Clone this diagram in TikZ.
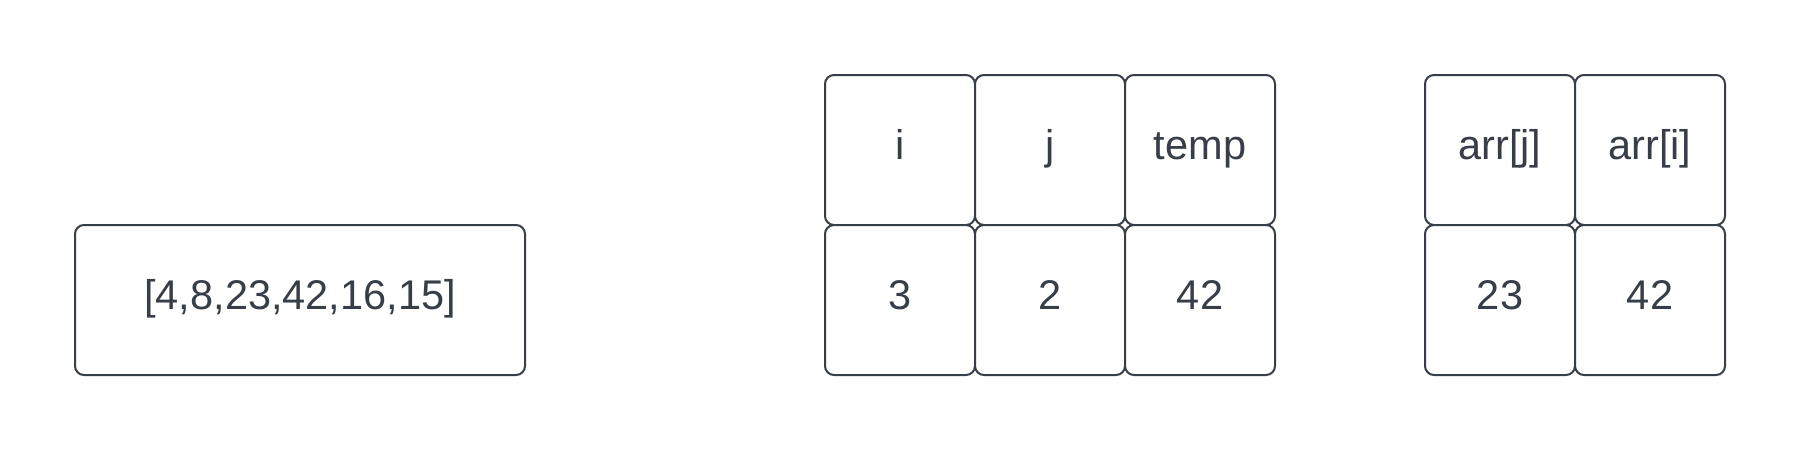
\documentclass[tikz,border=0pt]{standalone}
\usepackage{fontspec}
\setmainfont{Liberation Sans}
\definecolor{ink}{RGB}{55,62,72}
\tikzset{
  cell/.style={draw=ink, line width=2pt, rounded corners=9pt, fill=white,
    minimum width=150pt, minimum height=150pt, inner sep=0pt,
    text=ink, font=\fontsize{41.5}{48}\selectfont, text height=18pt, text depth=0pt},
  widecell/.style={cell, minimum width=450pt}
}
\begin{document}
\begin{tikzpicture}[x=1pt,y=-1pt]
\useasboundingbox (0,0) rectangle (1800,450);
\fill[white] (0,0) rectangle (1800,450);
\node[widecell] (arr) at (300,300) {[4,8,23,42,16,15]};
\node[cell] (hi) at (900,150) {i};
\node[cell] (hj) at (1050,150) {j};
\node[cell] (ht) at (1200,150) {temp};
\node[cell] (vi) at (900,300) {3};
\node[cell] (vj) at (1050,300) {2};
\node[cell] (vt) at (1200,300) {42};
\node[cell] (haj) at (1500,150) {arr[j]};
\node[cell] (hai) at (1650,150) {arr[i]};
\node[cell] (vaj) at (1500,300) {23};
\node[cell] (vai) at (1650,300) {42};
\end{tikzpicture}
\end{document}
